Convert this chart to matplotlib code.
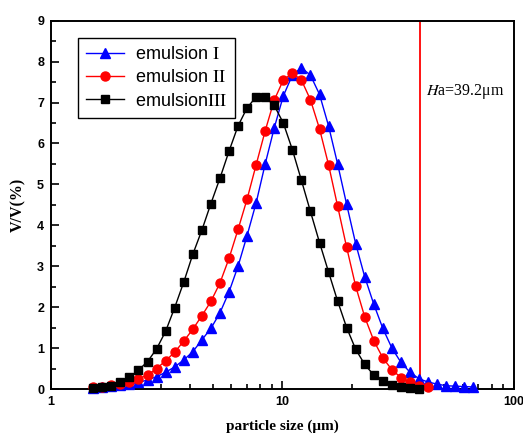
import matplotlib
matplotlib.use('Agg')
import matplotlib.pyplot as plt
from matplotlib.ticker import LogLocator, MultipleLocator, FixedLocator, FixedFormatter

# particle size bins (um)
sizes = [1.521, 1.665, 1.822, 1.993, 2.181, 2.387, 2.612, 2.858, 3.127, 3.422,
         3.744, 4.097, 4.483, 4.905, 5.367, 5.873, 6.427, 7.031, 7.694, 8.419,
         9.211, 10.08, 11.03, 12.07, 13.20, 14.45, 15.81, 17.30, 18.93, 20.71,
         22.66, 24.80, 27.13, 29.69, 32.49, 35.55, 38.90, 42.56, 46.57, 50.96,
         55.76, 61.01, 66.77]

emul1 = [0.03, 0.05, 0.07, 0.09, 0.12, 0.16, 0.22, 0.30, 0.41, 0.54,
         0.71, 0.91, 1.20, 1.48, 1.86, 2.37, 3.00, 3.75, 4.55, 5.50,
         6.38, 7.16, 7.67, 7.85, 7.67, 7.20, 6.43, 5.50, 4.51, 3.55,
         2.74, 2.07, 1.48, 1.00, 0.65, 0.41, 0.25, 0.17, 0.12, 0.08,
         0.07, 0.06, 0.05]

emul2 = [0.04, 0.06, 0.09, 0.13, 0.18, 0.25, 0.34, 0.50, 0.69, 0.90,
         1.17, 1.46, 1.79, 2.14, 2.59, 3.19, 3.90, 4.64, 5.48, 6.31,
         7.06, 7.55, 7.72, 7.55, 7.07, 6.36, 5.48, 4.47, 3.46, 2.51,
         1.76, 1.18, 0.76, 0.47, 0.28, 0.16, 0.08, 0.04]

emul3 = [0.02, 0.04, 0.08, 0.16, 0.29, 0.46, 0.67, 0.98, 1.41, 1.99,
         2.61, 3.29, 3.88, 4.53, 5.15, 5.81, 6.43, 6.87, 7.14, 7.14,
         6.93, 6.50, 5.85, 5.10, 4.34, 3.58, 2.86, 2.15, 1.50, 0.97,
         0.60, 0.34, 0.19, 0.10, 0.06, 0.03, 0.01]

labels = [r'emulsion $\mathrm{I}$', r'emulsion $\mathrm{II}$', r'emulsion$\mathrm{III}$']

ha = 39.2

plt.rcParams['mathtext.fontset'] = 'stix'

fig = plt.figure(figsize=(5.23, 4.37), dpi=100)
ax = fig.add_axes([0.0975, 0.1098, 0.8853, 0.8428])

ax.plot(sizes[:len(emul1)], emul1, color='blue', lw=1, marker='^', ms=7.5,
        mec='blue', mfc='blue', label=labels[0], clip_on=False, zorder=3)
ax.plot(sizes[:len(emul2)], emul2, color='red', lw=1, marker='o', ms=6.5,
        mec='red', mfc='red', label=labels[1], clip_on=False, zorder=3)
ax.plot(sizes[:len(emul3)], emul3, color='black', lw=1, marker='s', ms=5.5,
        mec='black', mfc='black', label=labels[2], clip_on=False, zorder=3)

ax.axvline(ha, color='red', lw=1.3, zorder=2)
ax.text(41.5, 7.27, '$H$a=39.2μm', family='Liberation Serif', fontsize=11.5,
        va='center', ha='left')

ax.set_xscale('log')
ax.set_xlim(1, 100)
ax.set_ylim(0, 9)

ax.xaxis.set_major_locator(FixedLocator([1, 10, 100]))
ax.xaxis.set_major_formatter(FixedFormatter(['1', '10', '100']))
ax.xaxis.set_minor_locator(LogLocator(base=10, subs=range(2, 10)))
ax.xaxis.set_minor_formatter(FixedFormatter([]))
ax.yaxis.set_major_locator(MultipleLocator(1))
ax.yaxis.set_minor_locator(MultipleLocator(0.5))

ax.tick_params(which='both', direction='in', top=False, right=False, width=1.2)
ax.tick_params(which='major', length=6, labelsize=9, pad=5)
ax.tick_params(which='minor', length=3.5)
for lab in ax.get_xticklabels() + ax.get_yticklabels():
    lab.set_fontweight('bold')
    lab.set_family('Liberation Sans')

for sp in ax.spines.values():
    sp.set_linewidth(1.4)

ax.set_xlabel('particle size (μm)', family='Liberation Serif', fontweight='bold',
              fontsize=11, labelpad=8)
ax.set_ylabel('V/V(%)', family='Liberation Serif', fontweight='bold',
              fontsize=11.5, labelpad=8)

leg = ax.legend(loc='upper left', bbox_to_anchor=(0.058, 0.953), borderaxespad=0,
                fancybox=False, edgecolor='black', framealpha=1,
                prop={'family': 'Liberation Sans', 'size': 13},
                handlelength=2.1, handletextpad=0.6, labelspacing=0.35,
                borderpad=0.45)
leg.get_frame().set_linewidth(1)

fig.savefig('out.png', dpi=100)
